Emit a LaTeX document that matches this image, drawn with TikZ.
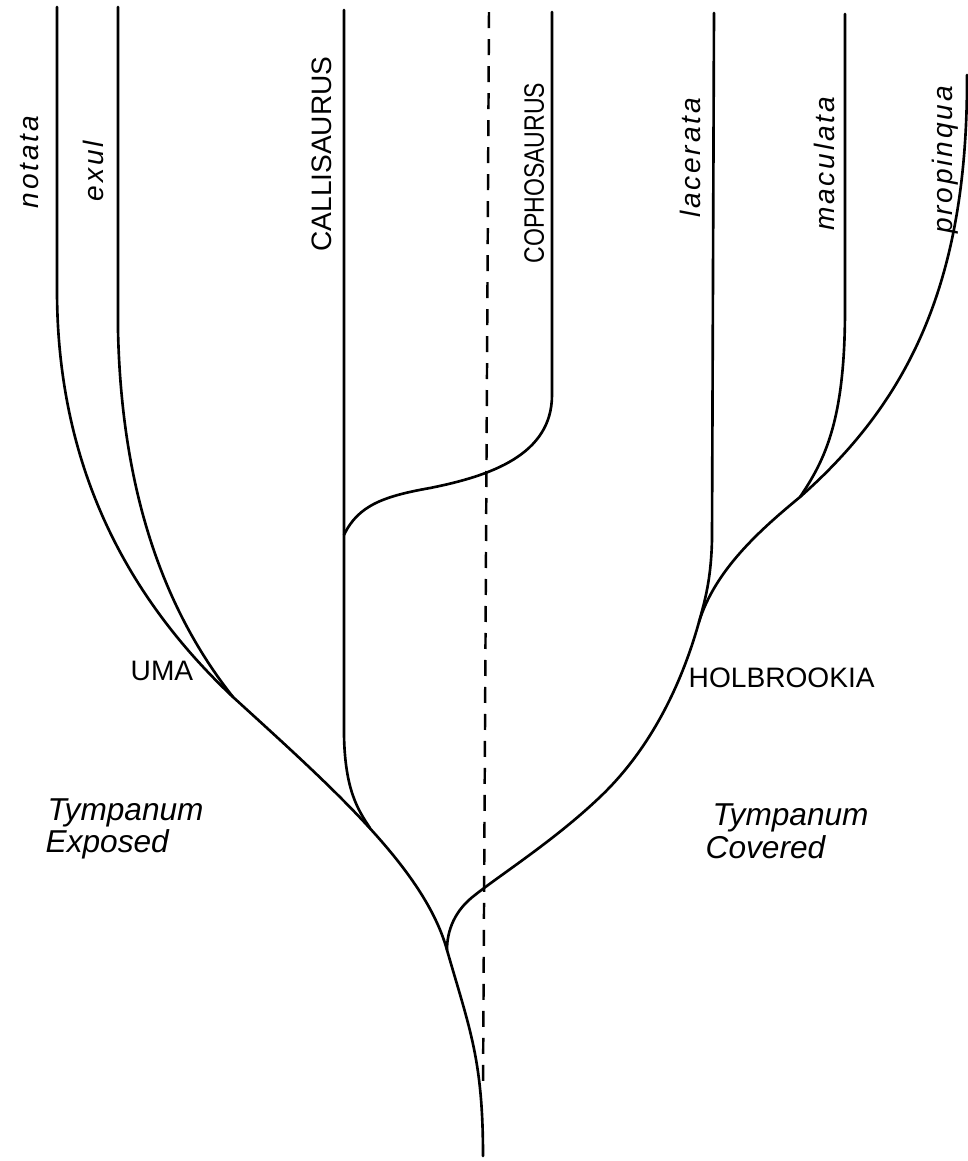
\documentclass[tikz,border=0pt]{standalone}
\usepackage{fontspec}
\setmainfont{Liberation Sans}
\newfontfamily\spfont[LetterSpace=10]{Liberation Sans}
\begin{document}
\begin{tikzpicture}[x=0.1mm,y=-0.1mm,
	branch/.style={line width=0.75pt, line cap=round},
	divide/.style={line width=0.7pt, dash pattern=on 1.6mm off 1.1mm},
	sp/.style={rotate=90, anchor=base, inner sep=0pt, font=\spfont\itshape\fontsize{8}{8}\selectfont},
	genus/.style={anchor=base west, inner sep=0pt, font=\fontsize{8}{8}\selectfont},
	tymp/.style={anchor=base west, inner sep=0pt, font=\itshape\fontsize{9}{9}\selectfont}]
	\useasboundingbox (0,0) rectangle (968,1161);
	
	% --- diem noi cac nhanh ---
	\coordinate (root) at (483,1156);
	\coordinate (uma) at (233,697);
	\coordinate (cal) at (370,828);
	\coordinate (hol) at (447,950);
	\coordinate (cc) at (344,535);
	\coordinate (hj) at (699,622);
	\coordinate (mp) at (800,497);
	\coordinate (dtop) at (489,12);
	\coordinate (dbot) at (483,1090);
	
	% 1. Than chinh
	\draw[branch] (uma) .. controls (335,790) and (425,870) .. (hol) .. controls (470,1030) and (483,1060) .. (root);
	
	% 2. Nhanh UMA
	\draw[branch] (57,7) -- (57,290) .. controls (57,470) and (130,600) .. (uma);
	\draw[branch] (118,7) -- (118,330) .. controls (122,520) and (180,630) .. (uma);
	
	% 3. Callisaurus - Cophosaurus
	\draw[branch] (344,10) -- (344,735) .. controls (345,790) and (358,810) .. (cal);
	\draw[branch] (552,12) -- (552,395) .. controls (552,455) and (490,476) .. (430,488) .. controls (385,496) and (358,505) .. (cc);
	
	% 4. Nhanh HOLBROOKIA
	\draw[branch] (714,13) -- (712,540) .. controls (711,580) and (705,600) .. (hj);
	\draw[branch] (845,14) -- (845,310) .. controls (845,420) and (825,460) .. (mp);
	\draw[branch] (967,75) .. controls (968,280) and (910,400) .. (mp);
	\draw[branch] (mp) .. controls (760,530) and (715,570) .. (hj) .. controls (687,665) and (660,740) .. (600,797) .. controls (555,840) and (500,875) .. (475,895) .. controls (455,910) and (447,930) .. (hol);
	
	% 5. Duong ngan cach
	\draw[divide] (dtop) -- (dbot);
	
	% --- nhan ---
	\node[sp] (notata) at (38,162) {notata};
	\node[sp] (exul) at (103,171) {exul};
	\node[sp] (lacerata) at (701,158) {lacerata};
	\node[sp] (maculata) at (834,164) {maculata};
	\node[sp] (propinqua) at (952,160) {propinqua};
	\node[genus, rotate=90, anchor=base] (callisaurus) at (332,154) {CALLISAURUS};
	\node[genus, rotate=90, anchor=base, xscale=0.82] (cophosaurus) at (544,173) {COPHOSAURUS};
	\node[genus] (umalabel) at (130,680) {UMA};
	\node[genus] (holbrookia) at (688,687) {HOLBROOKIA};
	\node[tymp] (tympL) at (47,820) {Tympanum};
	\node[tymp] (exposed) at (45,852) {Exposed};
	\node[tymp] (tympR) at (712,825) {Tympanum};
	\node[tymp] (covered) at (705,858) {Covered};
\end{tikzpicture}
\end{document}
